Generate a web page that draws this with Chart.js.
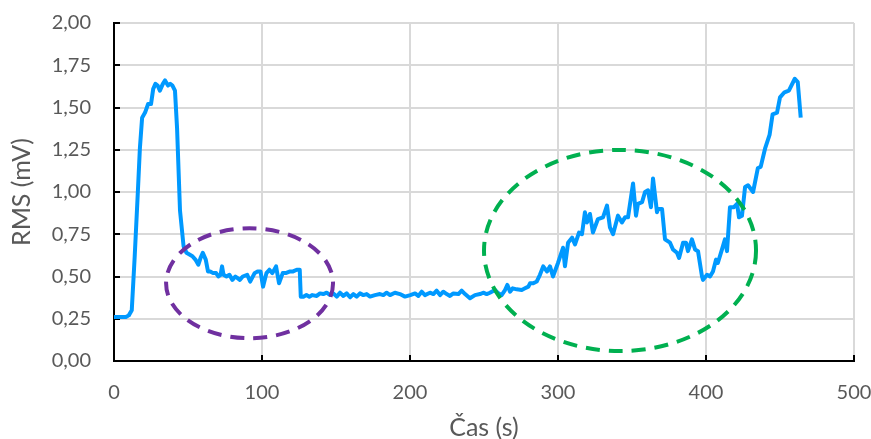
<!DOCTYPE html>
<html>
<head>
<meta charset="utf-8">
<script src="https://cdn.jsdelivr.net/npm/chart.js@4/dist/chart.umd.min.js"></script>
<style>
  html, body { margin: 0; padding: 0; background: #ffffff; }
  canvas { display: block; }
</style>
</head>
<body>
<canvas id="rmsChart" width="871" height="439"></canvas>
<script>
// Recording time (s)
const times = [
  0, 2, 4, 6, 8, 10, 12, 14, 16, 17.5, 19, 21, 23, 25, 26.5, 28, 29.5, 31, 33, 34.5,
  36.5, 38, 39.5, 41.2, 42.6, 44.6, 47, 49, 51, 53, 55, 57, 58.5, 60, 62, 63.5, 65, 67, 69, 70.5,
  72, 73, 74, 76, 78, 80, 82, 83.5, 85, 87, 90, 92, 95, 97, 99, 100.7, 103, 105, 107, 109.5,
  111.5, 114, 116, 119, 121, 123.5, 125.5, 126.2, 128, 130, 132, 134, 137, 139.2, 141.4, 143.7, 146, 148.2, 150.5, 152.7,
  155, 157.2, 159.5, 161.7, 164, 166.2, 168.5, 170.7, 173, 176.3, 179.7, 182, 184.2, 186.5, 189.8, 193.2, 196.6, 200.2, 203.4, 205.6,
  207.9, 210.1, 213.5, 215.8, 218, 220.3, 222.5, 224.8, 227, 229.3, 232.7, 234.9, 237.2, 240.5, 243.9, 247.3, 249.5, 251.8, 254, 257.4,
  259.7, 261.9, 264.2, 265.8, 267.6, 269.4, 272.1, 275.5, 277.7, 280, 281.1, 283.3, 285.6, 287.8, 290, 292.6, 294.6, 296.6, 300, 303.4,
  304.7, 306.8, 309.5, 311.5, 314.2, 316.2, 318.2, 319.6, 321.6, 323.6, 327, 330.4, 333.1, 335.1, 337.2, 340.5, 343.2, 345.3, 347.3, 350.7,
  352.7, 354, 356.8, 358.8, 360.8, 362.8, 364.2, 366.9, 367.6, 370.3, 372.3, 375.7, 377.7, 380.4, 381.8, 384.5, 386.5, 387.8, 390.5, 392.6,
  394.6, 397.3, 398, 400.7, 402.7, 404.7, 406.8, 408, 410.8, 412.8, 414.2, 416.2, 418.9, 421, 422.3, 424.3, 426.4, 428.4, 431.8, 435,
  437, 440, 443, 445, 448, 450, 453, 456, 460, 462, 464
];

// RMS amplitude (mV)
const rms = [
  0.26, 0.26, 0.26, 0.26, 0.26, 0.27, 0.30, 0.62, 0.98, 1.26, 1.44, 1.47, 1.52, 1.52, 1.61, 1.64, 1.63, 1.60, 1.64, 1.66,
  1.63, 1.64, 1.63, 1.60, 1.38, 0.89, 0.68, 0.64, 0.63, 0.62, 0.60, 0.57, 0.61, 0.64, 0.60, 0.53, 0.53, 0.52, 0.52, 0.50,
  0.51, 0.56, 0.51, 0.50, 0.51, 0.48, 0.50, 0.49, 0.48, 0.50, 0.51, 0.47, 0.52, 0.53, 0.53, 0.44, 0.52, 0.54, 0.52, 0.56,
  0.46, 0.52, 0.52, 0.53, 0.53, 0.54, 0.54, 0.38, 0.38, 0.39, 0.38, 0.39, 0.385, 0.40, 0.396, 0.404, 0.39, 0.40, 0.381, 0.404,
  0.385, 0.40, 0.377, 0.396, 0.381, 0.40, 0.39, 0.396, 0.381, 0.39, 0.396, 0.39, 0.404, 0.39, 0.404, 0.396, 0.381, 0.39, 0.40, 0.385,
  0.41, 0.39, 0.404, 0.396, 0.416, 0.39, 0.41, 0.396, 0.385, 0.40, 0.396, 0.416, 0.396, 0.371, 0.39, 0.396, 0.404, 0.396, 0.404, 0.42,
  0.40, 0.39, 0.42, 0.45, 0.41, 0.43, 0.424, 0.42, 0.43, 0.44, 0.46, 0.46, 0.47, 0.51, 0.56, 0.53, 0.56, 0.50, 0.58, 0.67,
  0.56, 0.70, 0.73, 0.69, 0.76, 0.75, 0.88, 0.82, 0.87, 0.76, 0.84, 0.85, 0.92, 0.79, 0.75, 0.86, 0.82, 0.85, 0.85, 1.05,
  0.86, 0.93, 0.94, 1.00, 1.01, 0.91, 1.08, 0.88, 0.90, 0.90, 0.72, 0.70, 0.66, 0.64, 0.61, 0.70, 0.70, 0.65, 0.72, 0.66,
  0.65, 0.50, 0.48, 0.51, 0.50, 0.53, 0.60, 0.58, 0.66, 0.72, 0.65, 0.91, 0.91, 0.93, 0.85, 0.86, 1.03, 1.04, 1.00, 1.14,
  1.15, 1.26, 1.34, 1.46, 1.47, 1.56, 1.59, 1.60, 1.67, 1.65, 1.44
];

const xTickLabels = ['0', '100', '200', '300', '400', '500'];
const yTickLabels = ['0,00', '0,25', '0,50', '0,75', '1,00', '1,25', '1,50', '1,75', '2,00'];

// Highlighted phases: ellipse centre (time, RMS) and half-axes in data units
const phaseCentreTime = [91.6, 341.9];
const phaseCentreRms = [0.46, 0.654];
const phaseHalfTime = [56.4, 91.9];
const phaseHalfRms = [0.325, 0.595];
const phaseColours = ['#7030A0', '#00B050'];

const TICK_FONT = { family: 'Lato, "Open Sans", sans-serif', size: 20 };
const TITLE_FONT = { family: 'Lato, "Open Sans", sans-serif', size: 25, lineHeight: 1 };
const TEXT_GREY = '#595959';

// Short tick marks drawn inward from the axis lines
const inwardTicks = {
  id: 'inwardTicks',
  beforeDatasetsDraw(chart) {
    const { ctx, chartArea, scales } = chart;
    ctx.save();
    ctx.strokeStyle = '#000000';
    ctx.lineWidth = 2;
    ctx.beginPath();
    scales.y.ticks.forEach(t => {
      const py = Math.round(scales.y.getPixelForValue(t.value));
      ctx.moveTo(chartArea.left, py);
      ctx.lineTo(chartArea.left + 6, py);
    });
    scales.x.ticks.forEach(t => {
      const px = Math.round(scales.x.getPixelForValue(t.value));
      ctx.moveTo(px, chartArea.bottom);
      ctx.lineTo(px, chartArea.bottom - 6);
    });
    ctx.stroke();
    ctx.restore();
  }
};

// Dashed ellipses marking the two phases
const phaseEllipses = {
  id: 'phaseEllipses',
  afterDatasetsDraw(chart) {
    const { ctx, scales: { x, y } } = chart;
    ctx.save();
    ctx.lineWidth = 4;
    ctx.setLineDash([14, 9]);
    for (let i = 0; i < phaseCentreTime.length; i++) {
      const cx = x.getPixelForValue(phaseCentreTime[i]);
      const cy = y.getPixelForValue(phaseCentreRms[i]);
      const rx = x.getPixelForValue(phaseCentreTime[i] + phaseHalfTime[i]) - cx;
      const ry = cy - y.getPixelForValue(phaseCentreRms[i] + phaseHalfRms[i]);
      ctx.strokeStyle = phaseColours[i];
      ctx.beginPath();
      ctx.ellipse(cx, cy, rx, ry, 0, 0, Math.PI * 2);
      ctx.stroke();
    }
    ctx.restore();
  }
};

new Chart(document.getElementById('rmsChart'), {
  type: 'line',
  data: {
    datasets: [{
      data: times.map((t, i) => ({ x: t, y: rms[i] })),
      borderColor: '#0099FF',
      borderWidth: 4,
      borderJoinStyle: 'round',
      pointRadius: 0,
      tension: 0,
      fill: false
    }]
  },
  options: {
    responsive: false,
    animation: false,
    devicePixelRatio: 1,
    layout: { padding: { top: 23, right: 17, left: 0, bottom: 0 } },
    plugins: { legend: { display: false }, tooltip: { enabled: false } },
    scales: {
      x: {
        type: 'linear',
        min: 0,
        max: 500,
        afterFit(scale) {
          scale.height = 78;
          scale.paddingLeft = 0;
          scale.paddingRight = 0;
        },
        ticks: {
          stepSize: 100,
          maxRotation: 0,
          padding: 20,
          color: TEXT_GREY,
          font: TICK_FONT,
          callback: (v) => xTickLabels[Math.round(v / 100)]
        },
        grid: { color: '#D9D9D9', lineWidth: 2, drawTicks: false },
        border: { display: true, color: '#000000', width: 2 },
        title: {
          display: true,
          text: 'Čas (s)',
          color: TEXT_GREY,
          font: TITLE_FONT,
          padding: { top: 0, bottom: -1 }
        }
      },
      y: {
        type: 'linear',
        min: 0,
        max: 2,
        afterFit(scale) {
          scale.width = 114;
          scale.paddingTop = 0;
          scale.paddingBottom = 0;
        },
        ticks: {
          stepSize: 0.25,
          padding: 23,
          color: TEXT_GREY,
          font: TICK_FONT,
          callback: (v) => yTickLabels[Math.round(v / 0.25)]
        },
        grid: { color: '#D9D9D9', lineWidth: 2, drawTicks: false },
        border: { display: true, color: '#000000', width: 2 },
        title: {
          display: true,
          text: 'RMS (mV)',
          color: TEXT_GREY,
          font: TITLE_FONT,
          padding: { top: 9, bottom: 0 }
        }
      }
    }
  },
  plugins: [inwardTicks, phaseEllipses]
});
</script>
</body>
</html>
